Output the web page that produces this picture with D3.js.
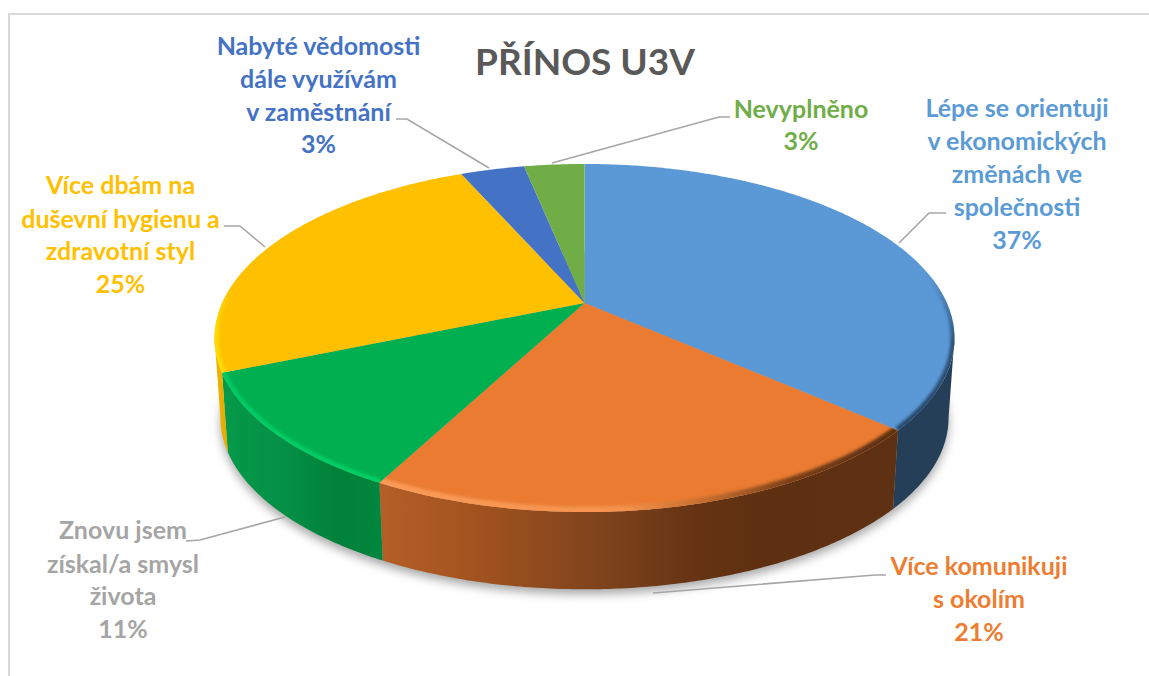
<!DOCTYPE html>
<html lang="cs"><head><meta charset="utf-8">
<script src="https://cdn.jsdelivr.net/npm/d3@7/dist/d3.min.js"></script>
<style>html,body{margin:0;background:#fff}svg{display:block}text{font-family:Lato,"Noto Sans",sans-serif;font-weight:700}</style>
</head><body><svg id="c" width="1149" height="676"></svg>
<script>
// --- data ---
const chartTitle = "PŘÍNOS U3V";
const categories = ["Lépe se orientuji v ekonomických změnách ve společnosti","Více komunikuji s okolím","Znovu jsem získal/a smysl života","Více dbám na duševní hygienu a zdravotní styl","Nabyté vědomosti dále využívám v zaměstnání","Nevyplněno"];
const values = [36.5, 21.2, 11.0, 24.7, 3.4, 3.2];
const labelLines = [["Lépe se orientuji","v ekonomických","změnách ve","společnosti"],["Více komunikuji","s okolím"],["Znovu jsem","získal/a smysl","života"],["Více dbám na","duševní hygienu a","zdravotní styl"],["Nabyté vědomosti","dále využívám","v zaměstnání"],["Nevyplněno"]];
const topColors = ["#5b98d6","#ea7b31","#00b050","#ffc000","#4472c4","#70ad47"];
const labelColors = ["#5b9bd5","#ed7d31","#a5a5a5","#ffc000","#4472c4","#70ad47"];

// --- layout ---
const labelPos = [{x:1017,y:[117,150,183,216,249]},{x:979,y:[575,608,641]},{x:123,y:[539,573,605,638]},{x:120.5,y:[194,228,260,293]},{x:318.5,y:[55,88,121,153]},{x:801,y:[118,150]}];
const leaders = [[[946,213],[929,213],[899,243]],[[886,575],[875,575],[653,593]],[[186,541],[200,540],[285,517]],[[224,226],[240,226],[265,247]],[[396,119],[407,119],[489,168]],[[730,117],[719,117],[552,163]]];
const W = 1149, H = 676;
const K = -0.2011, A = 362.4, B = 167, HX = 584.5, HY_TOP = 303, HY_BOT = 383.6, BOT_SCALE = 0.984;

const svg = d3.select("#c");
const defs = svg.append("defs");
const blur = (id,s)=>defs.append("filter").attr("id",id).attr("x","-10%").attr("y","-10%").attr("width","120%").attr("height","120%").append("feGaussianBlur").attr("stdDeviation",s);
blur("shadow",5); blur("soft",1.6);
function grad(id,dir,stops){
  const g=defs.append("linearGradient").attr("id",id).attr("gradientUnits","userSpaceOnUse");
  if(dir==="x")g.attr("x1",210).attr("x2",960).attr("y1",0).attr("y2",0);
  else g.attr("x1",0).attr("x2",0).attr("y1",160).attr("y2",600);
  const [a,b]=dir==="x"?[210,960]:[160,600];
  stops.forEach(s=>g.append("stop").attr("offset",(s[0]-a)/(b-a)).attr("stop-color",s[1]).attr("stop-opacity",s[2]===undefined?1:s[2]));
}
// side walls
grad("w0","x",[[210,"#253f59"],[960,"#253f59"]]);
grad("w1","x",[[380,"#b55e27"],[470,"#a3541f"],[600,"#7f431c"],[700,"#643313"],[760,"#5e2f11"],[885,"#5f3114"]]);
grad("w2","x",[[222,"#059a4a"],[290,"#048f44"],[340,"#008038"],[385,"#00873f"]]);
grad("w3","x",[[210,"#f2b400"],[235,"#e0a800"]]);
// bevel strokes
grad("b0","y",[[275,"#27486b",0],[345,"#27486b",0.9],[440,"#27486b",1]]);
grad("b1","x",[[380,"#fb9b58"],[620,"#f5934e"],[700,"#c8702f"],[790,"#7c4019"],[885,"#5e3011"]]);
grad("b2","x",[[222,"#00cc62"],[385,"#00d166"]]);
grad("b3","y",[[285,"#ffdd00",0],[330,"#ffdd00",1],[380,"#ffdd00",1]]);

const pie = d3.pie().sort(null).value(d=>d).startAngle(0).endAngle(2*Math.PI);
const arcs = pie(values);

// projected circle: angle clockwise from twelve o'clock
function proj(t,bottom){
  const u=Math.sin(t), v=-Math.cos(t), w=1+K*v, s=bottom?BOT_SCALE:1;
  return [HX+s*A*u/w,(bottom?HY_BOT:HY_TOP)+s*B*v/w];
}
const line=d3.line();
const samples=(a0,a1,bottom)=>{const n=Math.max(2,Math.ceil((a1-a0)/0.01));return d3.range(n+1).map(i=>proj(a0+(a1-a0)*i/n,bottom));};
const visA=Math.acos(K), visB=2*Math.PI-visA;

// soft shadow under the disc
svg.append("path").attr("d",line(samples(0,2*Math.PI,true))+"Z").attr("transform","translate(0,5)").attr("fill","#a8a8a8").attr("filter","url(#shadow)");

// walls
const wallG=svg.append("g");
arcs.forEach((d,i)=>{
  const a0=Math.max(d.startAngle,visA), a1=Math.min(d.endAngle,visB);
  if(a1<=a0)return;
  wallG.append("path").attr("d",line(samples(a0,a1,false).concat(samples(a0,a1,true).reverse()))+"Z").attr("fill",`url(#w${i})`);
});

// top faces
const hub=[HX,HY_TOP];
const slicePath=d=>line([hub].concat(samples(d.startAngle,d.endAngle,false)))+"Z";
arcs.forEach((d,i)=>{
  svg.append("path").attr("d",slicePath(d)).attr("fill",topColors[i]);
});

// bevel along the rim
arcs.slice(0,4).forEach((d,i)=>{
  defs.append("clipPath").attr("id",`cl${i}`).append("path").attr("d",slicePath(d));
  svg.append("g").attr("clip-path",`url(#cl${i})`).append("path")
    .attr("d",line(samples(d.startAngle,d.endAngle,false))).attr("fill","none")
    .attr("stroke",`url(#b${i})`).attr("stroke-width",i===1?11:8).attr("filter","url(#soft)");
});

// leader lines
svg.append("g").selectAll("path").data(leaders).join("path").attr("d",d=>line(d)).attr("fill","none").attr("stroke","#a6a6a6").attr("stroke-width",1.6);

// frame
svg.append("path").attr("d",line([[9,H],[9,14],[W,14]])).attr("fill","none").attr("stroke","#d9d9d9").attr("stroke-width",2);

// title
svg.append("text").attr("x",585).attr("y",75).attr("text-anchor","middle").attr("font-size",37).attr("fill","#595959").text(chartTitle);

// labels
const pct=d3.format(".0f");
arcs.forEach((d,i)=>{
  const t=svg.append("text").attr("text-anchor","middle").attr("font-size",25).attr("fill",labelColors[i]).attr("data-cat",categories[i]);
  labelLines[i].concat(pct(d.value)+"%").forEach((s,j)=>t.append("tspan").attr("x",labelPos[i].x).attr("y",labelPos[i].y[j]).text(s));
});
</script></body></html>
